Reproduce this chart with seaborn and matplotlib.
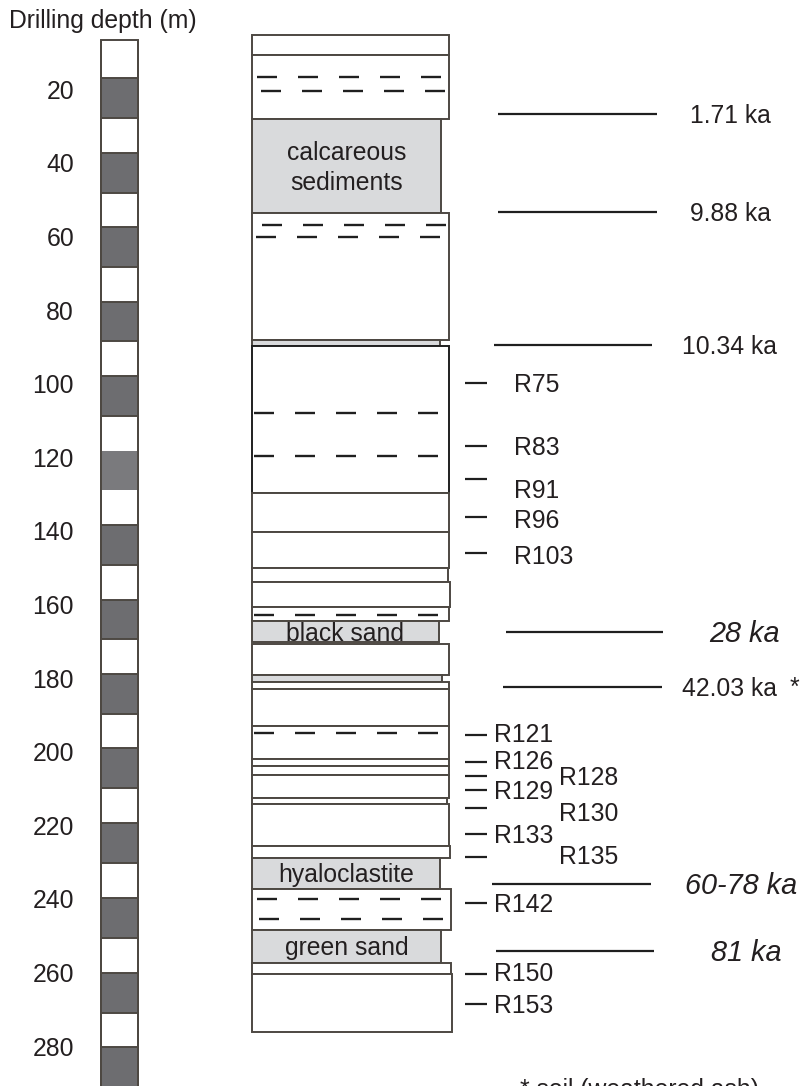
import matplotlib
matplotlib.use("Agg")
import matplotlib.pyplot as plt
import seaborn as sns

# ---------------- data (depths in metres) ----------------
depth_ticks = [20, 40, 60, 80, 100, 120, 140, 160, 180, 200, 220, 240, 260, 280]

# alternating depth scale bar
scale_top, scale_bottom = 6.4, 295.0
scale_dark_tops = [16.7, 37.0, 57.2, 77.5, 97.7, 118.0, 138.2, 158.5,
                   178.7, 198.9, 219.2, 239.6, 259.9, 280.1]
scale_dark_bottoms = [27.6, 47.9, 68.1, 88.3, 108.6, 128.8, 149.1, 169.3,
                      189.6, 209.8, 230.1, 250.4, 270.8, 290.9]

# lithological column
layer_tops = [5.0, 10.5, 27.9, 53.4, 87.9, 89.6, 129.5, 140.1, 149.9, 153.7,
              160.5, 164.3, 170.5, 179.0, 180.9, 182.8, 192.8, 201.8, 203.7,
              206.1, 212.4, 214.0, 225.4, 228.7, 237.1, 248.3, 257.2, 260.2]
layer_bottoms = [10.5, 27.9, 53.4, 87.9, 89.6, 129.5, 140.1, 149.9, 153.7,
                 160.5, 164.3, 170.1, 179.0, 180.9, 182.8, 192.8, 201.8, 203.7,
                 206.1, 212.4, 214.0, 225.4, 228.7, 237.1, 248.3, 257.2, 260.2,
                 276.0]
layer_kinds = ["volcanic", "volcanic", "sediment", "volcanic", "sediment",
               "volcanic", "volcanic", "volcanic", "volcanic", "volcanic",
               "volcanic", "sediment", "volcanic", "sediment", "volcanic",
               "volcanic", "volcanic", "volcanic", "volcanic", "volcanic",
               "volcanic", "volcanic", "volcanic", "sediment", "volcanic",
               "sediment", "volcanic", "volcanic"]
layer_names = ["", "", "calcareous\nsediments", "", "", "", "", "", "", "",
               "", "black sand", "", "", "", "", "", "", "", "", "", "", "",
               "hyaloclastite", "", "green sand", "", ""]

# fine-grained (dashed) horizons
dash_depths = [16.5, 20.3, 56.7, 59.9, 107.8, 119.5, 162.7, 194.7, 239.8, 245.3]

# samples
sample_names = ["R75", "R83", "R91", "R96", "R103", "R121", "R126", "R128",
                "R129", "R130", "R133", "R135", "R142", "R150", "R153"]
sample_depths = [99.6, 116.7, 125.7, 136.0, 145.8, 195.3, 202.6, 206.4,
                 210.2, 215.1, 222.2, 228.4, 240.9, 260.2, 268.4]

# ages
age_labels = ["1.71 ka", "9.88 ka", "10.34 ka", "28 ka", "42.03 ka",
              "60-78 ka", "81 ka"]
age_depths = [26.5, 53.2, 89.3, 167.3, 182.2, 235.8, 254.0]
age_estimated = [False, False, False, True, False, True, True]
soil_age = "42.03 ka"

# ---------------- layout (x in pixels of an 800 px wide canvas) ----------------
W, H = 800, 1086
PX_PER_M = 3.68
Y0_PX = 16.4
col_left = 252
layer_right = [449, 449, 441, 449, 440, 449, 449, 449, 448, 450, 449, 439,
               449, 442, 449, 449, 449, 449, 449, 449, 447, 449, 450, 440,
               451, 441, 451, 452]
dash_x0 = [257, 261, 262, 256, 254, 254, 254, 254, 257, 259]
sample_text_x = [514, 514, 514, 514, 514, 494, 494, 559, 494, 559, 494, 559,
                 494, 494, 494]
sample_text_dy = {"R91": 10, "R96": 2, "R103": 2, "R121": -2, "R126": -2,
                  "R130": 4, "R135": -2, "R150": -2}
age_x0 = [498, 498, 494, 506, 503, 492, 496]
age_x1 = [657, 657, 652, 663, 662, 651, 654]
age_text_x = [690, 690, 682, 709, 682, 685, 711]

EDGE = "#4d4842"
INK = "#231f20"
SED_FILL = "#d9dadc"
SCALE_FILL = "#6d6d70"
FS = 17.8
FS_AGE = 20.8

sns.set_theme(style="white")
plt.rcParams["font.family"] = ["Liberation Sans", "DejaVu Sans"]
plt.rcParams["lines.scale_dashes"] = False

fig = plt.figure(figsize=(W / 100, H / 100), dpi=100)
ax = fig.add_axes([0, 0, 1, 1])
ax.set_xlim(0, W)
ax.set_ylim((H - Y0_PX) / PX_PER_M, (0 - Y0_PX) / PX_PER_M)
ax.axis("off")


def label(x, depth, s, size=FS, style="normal", dy_px=0.0, ha="left"):
    """Place text so that the middle of its capitals sits at `depth`."""
    cap = 0.716 * size
    ax.annotate(s, (x, depth), xytext=(0, -cap / 2 - dy_px * 0.72),
                textcoords="offset points", ha=ha, va="baseline",
                fontsize=size, style=style, color=INK, annotation_clip=False)


# depth scale bar
ax.bar(101, scale_bottom - scale_top, bottom=scale_top, width=37, align="edge",
       color="white", edgecolor=EDGE, linewidth=1.4)
for i, (t, b) in enumerate(zip(scale_dark_tops, scale_dark_bottoms)):
    light = i == 5
    ax.bar(101, b - t, bottom=t, width=37, align="edge",
           color="#7a7a7d" if light else SCALE_FILL,
           edgecolor="none" if light else EDGE, linewidth=1.4)
ax.vlines([101, 138], scale_top, scale_bottom, color=EDGE, linewidth=1.4)

for d in depth_ticks:
    label(74, d, str(d), ha="right")

label(9, 0.0, "Drilling depth (m)", dy_px=2.5)

# lithological column
for i, (t, b, kind) in enumerate(zip(layer_tops, layer_bottoms, layer_kinds)):
    edge = "#1f1f1f" if i == 5 else EDGE
    ax.bar(col_left, b - t, bottom=t, width=layer_right[i] - col_left,
           align="edge", color=SED_FILL if kind == "sediment" else "white",
           edgecolor=edge, linewidth=1.4)
    name = layer_names[i]
    if name:
        xc = (col_left + layer_right[i]) / 2
        mid = (t + b) / 2
        lines = name.split("\n")
        n = len(lines)
        for k, line in enumerate(lines):
            label(xc, mid, line, ha="center", dy_px=(k - (n - 1) / 2) * 29.7)

# dashed horizons: five dashes of 20 px with 21 px gaps
on, off = 20 * 0.72, 21 * 0.72
for d, x0 in zip(dash_depths, dash_x0):
    ax.hlines(d, x0, x0 + 4 * 41 + 20, color="#1f1f1f", linewidth=1.7,
              linestyles=[(0, (on, off))])

# samples
ax.hlines(sample_depths, 465, 487, color="#1f1f1f", linewidth=1.6)
for name, d, x in zip(sample_names, sample_depths, sample_text_x):
    label(x, d, name, dy_px=sample_text_dy.get(name, 0))

# ages
for lab, d, x0, x1, tx, est in zip(age_labels, age_depths, age_x0, age_x1,
                                   age_text_x, age_estimated):
    ax.hlines(d, x0, x1, color="#1f1f1f", linewidth=1.6)
    if est:
        label(tx, d, lab, size=FS_AGE, style="italic")
    else:
        label(tx, d, lab)
    if lab == soil_age:
        label(790, d, "*", dy_px=-1)

ax.annotate("* soil (weathered ash)", (520, (1097 - Y0_PX) / PX_PER_M),
            ha="left", va="baseline", fontsize=FS, color=INK,
            annotation_clip=False)

fig.savefig("out.png", dpi=100)
